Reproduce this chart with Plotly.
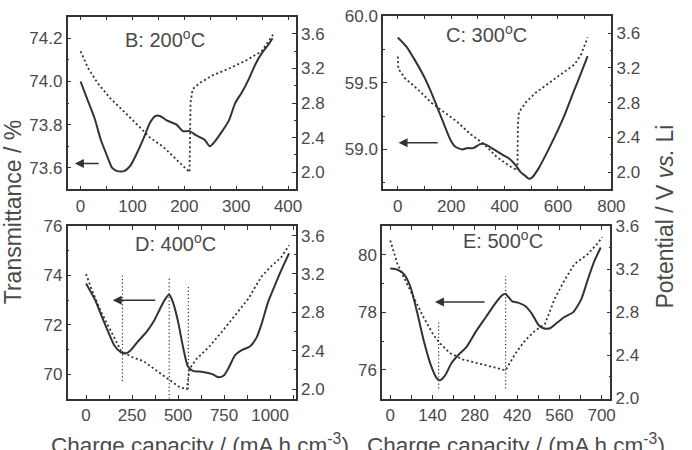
import plotly.graph_objects as go

# ---------------- data ----------------
# Panel B: 200 C
B_T_x = [0, 11, 27, 39, 52, 61, 71, 84, 96, 109, 122, 134, 144, 153, 166, 185, 197, 210, 223, 239, 249, 258, 273, 286, 298, 311, 324, 337, 349, 362, 370]
B_T_y = [74.0, 73.93, 73.83, 73.73, 73.65, 73.60, 73.585, 73.585, 73.61, 73.67, 73.74, 73.81, 73.84, 73.84, 73.82, 73.80, 73.77, 73.77, 73.75, 73.73, 73.70, 73.72, 73.77, 73.82, 73.90, 73.95, 74.01, 74.08, 74.13, 74.17, 74.20]
B_V_x = [0, 14, 33, 58, 84, 109, 134, 160, 185, 210, 212, 216, 229, 254, 286, 318, 349, 372]
B_V_y = [3.40, 3.21, 3.03, 2.85, 2.70, 2.55, 2.40, 2.29, 2.15, 2.00, 2.81, 2.96, 3.03, 3.12, 3.20, 3.29, 3.40, 3.60]

# Panel C: 300 C
C_T_x = [0, 33, 64, 100, 125, 149, 173, 198, 216, 241, 259, 283, 308, 326, 344, 369, 393, 418, 442, 460, 479, 491, 503, 528, 552, 589, 625, 662, 686, 711]
C_T_y = [59.84, 59.77, 59.67, 59.54, 59.43, 59.31, 59.19, 59.07, 59.02, 59.00, 59.01, 59.01, 59.04, 59.04, 59.02, 58.99, 58.96, 58.93, 58.88, 58.83, 58.80, 58.78, 58.79, 58.86, 58.95, 59.10, 59.26, 59.45, 59.57, 59.70]
C_V_x = [0, 2, 27, 76, 125, 173, 222, 271, 320, 369, 418, 448, 450, 454, 479, 515, 564, 613, 662, 686, 711]
C_V_y = [3.33, 3.19, 3.08, 2.95, 2.80, 2.69, 2.58, 2.44, 2.33, 2.18, 2.07, 2.02, 2.55, 2.69, 2.80, 2.91, 3.02, 3.13, 3.24, 3.35, 3.55]

# Panel D: 400 C
D_T_x = [0, 48, 83, 119, 154, 190, 216, 243, 278, 332, 367, 402, 429, 452, 473, 500, 527, 553, 580, 633, 686, 722, 748, 775, 810, 846, 890, 926, 952, 988, 1023, 1059, 1103]
D_T_y = [73.68, 73.03, 72.39, 71.74, 71.16, 70.88, 70.84, 70.97, 71.29, 71.74, 72.13, 72.65, 73.03, 73.23, 72.90, 72.13, 71.10, 70.32, 70.13, 70.09, 70.00, 69.87, 69.94, 70.26, 70.77, 70.97, 71.12, 71.48, 72.00, 72.90, 73.55, 74.19, 74.90]
D_V_x = [0, 30, 83, 137, 190, 243, 314, 385, 456, 509, 548, 562, 598, 668, 739, 810, 881, 952, 1005, 1059, 1103]
D_V_y = [3.20, 3.04, 2.80, 2.59, 2.40, 2.34, 2.29, 2.19, 2.09, 2.02, 2.00, 2.21, 2.31, 2.44, 2.60, 2.77, 2.94, 3.17, 3.28, 3.37, 3.50]

# Panel E: 500 C
E_T_x = [0, 24, 46, 67, 89, 111, 132, 154, 165, 181, 203, 230, 252, 284, 317, 349, 371, 382, 404, 425, 447, 469, 491, 507, 529, 550, 577, 605, 632, 653, 675, 697]
E_T_y = [79.52, 79.48, 79.32, 78.88, 78.00, 77.01, 76.24, 75.71, 75.64, 75.80, 76.24, 76.57, 76.79, 77.34, 77.84, 78.33, 78.60, 78.64, 78.38, 78.33, 78.22, 77.95, 77.56, 77.45, 77.45, 77.62, 77.84, 78.00, 78.44, 79.10, 79.76, 80.25]
E_V_x = [0, 24, 46, 78, 111, 143, 165, 198, 241, 284, 328, 371, 382, 415, 447, 480, 512, 545, 577, 610, 653, 686, 702]
E_V_y = [3.47, 3.25, 3.12, 2.94, 2.75, 2.59, 2.51, 2.42, 2.36, 2.33, 2.30, 2.27, 2.26, 2.42, 2.54, 2.63, 2.69, 2.93, 3.10, 3.25, 3.34, 3.44, 3.50]

# vertical guide lines (x, y_bottom, y_top) on transmittance axis
D_guides_x = [198, 452, 556]
D_guides_y0 = [69.72, 69.0, 69.4]
D_guides_y1 = [74.07, 73.94, 73.57]
E_guides_x = [160, 382]
E_guides_y0 = [75.36, 75.36]
E_guides_y1 = [77.73, 79.26]

labels = ["B: 200<sup>o</sup>C", "C: 300<sup>o</sup>C", "D: 400<sup>o</sup>C", "E: 500<sup>o</sup>C"]

# arrows (head_x, tail_x, y)
arrows = [(-11, 38, 73.62), (3, 155, 59.05), (145, 385, 73.0), (148, 317, 78.36)]

# axis setups
x_ranges = [[-25, 415], [-55, 800], [-100, 1140], [-27, 729]]
x_dticks = [100, 200, 250, 140]
yl_ranges = [[73.5, 74.3], [58.7, 60.003], [69.0, 76.01], [75.0, 81.0]]
yl_dticks = [0.2, 0.5, 2, 2]
yl_fmt = [".1f", ".1f", "d", "d"]
yr_ranges = [[1.8, 3.8], [1.8, 3.8], [1.9, 3.7], [1.995, 3.605]]

W, H = 692, 450
# panel boxes in pixels (left, right, top, bottom)
boxes = [(69, 302, 8, 188), (391, 624, 7, 188), (69, 302, 226, 406), (390, 623, 226, 406)]
label_pos = [(168, 31), (497, 26), (179, 243), (513, 240)]

INK = "#333333"
TXT = "#4a4a4a"
FONT = "Liberation Sans, Arial, sans-serif"
TICK = 17

fig = go.Figure()

Tx = [B_T_x, C_T_x, D_T_x, E_T_x]
Ty = [B_T_y, C_T_y, D_T_y, E_T_y]
Vx = [B_V_x, C_V_x, D_V_x, E_V_x]
Vy = [B_V_y, C_V_y, D_V_y, E_V_y]

for i in range(4):
    xa = "x" if i == 0 else f"x{i+1}"
    yl = "y" if i == 0 else f"y{2*i+1}"
    yr = f"y{2*i+2}"
    fig.add_trace(go.Scatter(x=Tx[i], y=Ty[i], xaxis=xa, yaxis=yl, mode="lines",
                             line=dict(color=INK, width=2, shape="spline", smoothing=0.6),
                             showlegend=False))
    fig.add_trace(go.Scatter(x=Vx[i], y=Vy[i], xaxis=xa, yaxis=yr, mode="lines",
                             line=dict(color=INK, width=1.8, dash="2px,2.6px"),
                             showlegend=False))

for gx, g0, g1 in zip(D_guides_x, D_guides_y0, D_guides_y1):
    fig.add_trace(go.Scatter(x=[gx, gx], y=[g0, g1], xaxis="x3", yaxis="y5", mode="lines",
                             line=dict(color=INK, width=1.2, dash="1.2px,2.4px"), showlegend=False))
for gx, g0, g1 in zip(E_guides_x, E_guides_y0, E_guides_y1):
    fig.add_trace(go.Scatter(x=[gx, gx], y=[g0, g1], xaxis="x4", yaxis="y7", mode="lines",
                             line=dict(color=INK, width=1.2, dash="1.2px,2.4px"), showlegend=False))

layout = dict(width=W, height=H, margin=dict(l=0, r=0, t=0, b=0),
              paper_bgcolor="white", plot_bgcolor="white",
              font=dict(family=FONT, size=TICK, color=TXT), showlegend=False)

for i in range(4):
    l, r, t, b = boxes[i]
    xdom = [l / W, r / W]
    ydom = [1 - b / H, 1 - t / H]
    xkey = "xaxis" if i == 0 else f"xaxis{i+1}"
    ylkey = "yaxis" if i == 0 else f"yaxis{2*i+1}"
    yrkey = f"yaxis{2*i+2}"
    xname = "x" if i == 0 else f"x{i+1}"
    ylname = "y" if i == 0 else f"y{2*i+1}"
    layout[xkey] = dict(domain=xdom, anchor=ylname, range=x_ranges[i], dtick=x_dticks[i], tick0=0,
                        showgrid=False, zeroline=False, showline=True, linecolor=INK, linewidth=1.5,
                        mirror="allticks", ticks="inside", ticklen=4, tickcolor=INK, tickwidth=1,
                        minor=dict(ticks="inside", ticklen=2, dtick=x_dticks[i] / 2, tick0=0, tickcolor=INK),
                        tickfont=dict(size=TICK, color=TXT))
    layout[ylkey] = dict(domain=ydom, anchor=xname, range=yl_ranges[i], dtick=yl_dticks[i], tick0=0,
                         tickformat=yl_fmt[i], showgrid=False, zeroline=False, showline=True,
                         linecolor=INK, linewidth=1.5, ticks="inside", ticklen=4, tickcolor=INK,
                         minor=dict(ticks="inside", ticklen=2, dtick=yl_dticks[i] / 2, tick0=0, tickcolor=INK),
                         tickfont=dict(size=TICK, color=TXT))
    layout[yrkey] = dict(domain=ydom, anchor=xname, overlaying=ylname, side="right",
                         range=yr_ranges[i], dtick=0.4, tick0=0, tickformat=".1f",
                         showgrid=False, zeroline=False, showline=True, linecolor=INK, linewidth=1.5,
                         ticks="inside", ticklen=4, tickcolor=INK,
                         minor=dict(ticks="inside", ticklen=2, dtick=0.2, tick0=0, tickcolor=INK),
                         tickfont=dict(size=TICK, color=TXT))

fig.update_layout(**layout)

ann = []
for i in range(4):
    px, py = label_pos[i]
    ann.append(dict(x=px / W, y=1 - py / H, xref="paper", yref="paper", text=labels[i],
                    showarrow=False, xanchor="center", yanchor="middle",
                    font=dict(size=20, color=TXT, family=FONT)))
    xname = "x" if i == 0 else f"x{i+1}"
    ylname = "y" if i == 0 else f"y{2*i+1}"
    hx, tx, ay = arrows[i]
    ann.append(dict(x=hx, y=ay, ax=tx, ay=ay, xref=xname, yref=ylname, axref=xname, ayref=ylname,
                    text="", showarrow=True, arrowhead=2, arrowsize=1.2, arrowwidth=1.5, arrowcolor=INK))

ann.append(dict(x=13 / W, y=1 - 212 / H, xref="paper", yref="paper", text="Transmittance / %",
                textangle=-90, showarrow=False, xanchor="center", yanchor="middle",
                font=dict(size=23, color=TXT, family=FONT)))
ann.append(dict(x=679 / W, y=1 - 216 / H, xref="paper", yref="paper", text="Potential / V <i>vs.</i> Li",
                textangle=-90, showarrow=False, xanchor="center", yanchor="middle",
                font=dict(size=23, color=TXT, family=FONT)))
for cx in [204, 527]:
    ann.append(dict(x=cx / W, y=1 - 436 / H, xref="paper", yref="paper",
                    text="Charge capacity / (mA h cm<sup>-3</sup>)", showarrow=False,
                    xanchor="center", yanchor="top", font=dict(size=22.5, color=TXT, family=FONT)))

fig.update_layout(annotations=ann)
fig.write_html("out.html")
